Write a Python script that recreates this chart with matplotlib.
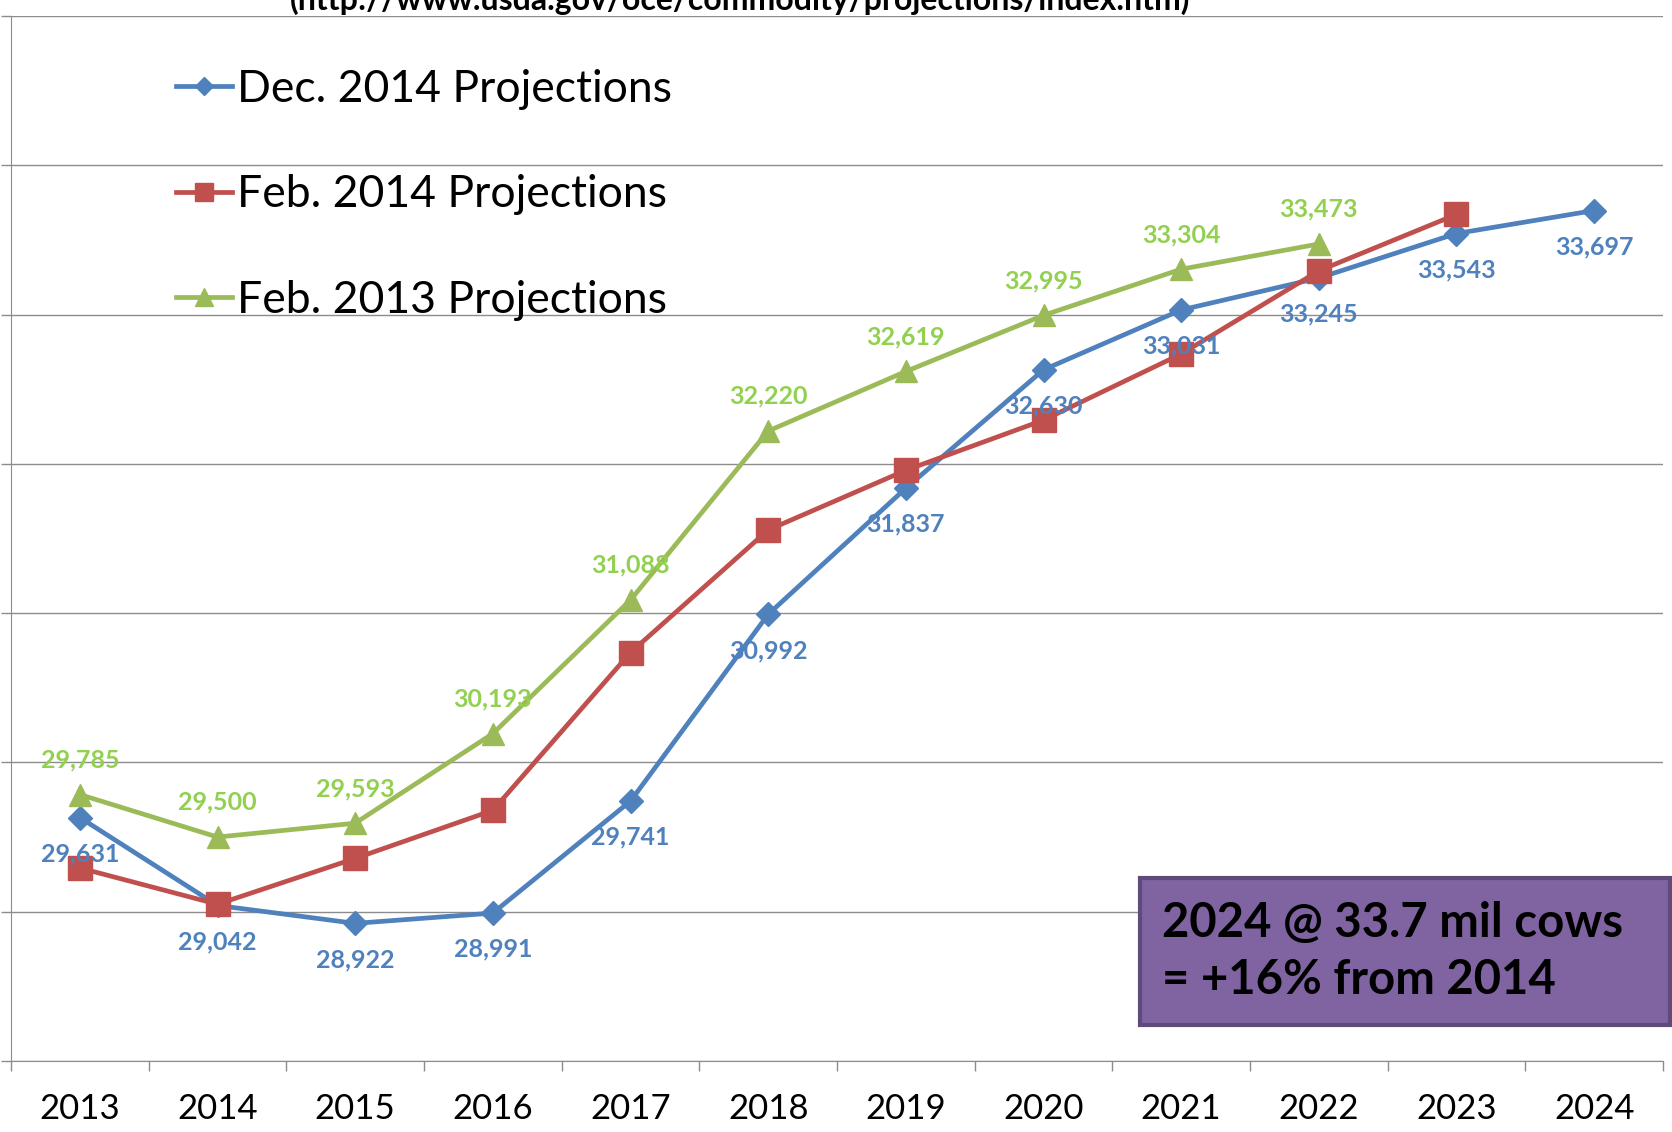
import numpy as np
import matplotlib.pyplot as plt
from matplotlib.patches import Rectangle

plt.rcParams['font.family'] = ['Lato', 'DejaVu Sans']

years = ['2013', '2014', '2015', '2016', '2017', '2018', '2019', '2020', '2021', '2022', '2023', '2024']
dec2014 = [29631, 29042, 28922, 28991, 29741, 30992, 31837, 32630, 33031, 33245, 33543, 33697]
feb2014 = [29293, 29050, 29357, 29679, 30736, 31557, 31957, 32293, 32736, 33293, 33671]
feb2013 = [29785, 29500, 29593, 30193, 31088, 32220, 32619, 32995, 33304, 33473]

blue = '#4F81BD'
red = '#C0504D'
green = '#9BBB59'
grid_c = '#8C8C8C'

fig = plt.figure(figsize=(16.72, 11.32), dpi=100)
ax = fig.add_axes([11/1672, 1 - 1061/1132, 1652/1672, 1045/1132])

x = np.arange(len(years))
l1, = ax.plot(x[:len(dec2014)], dec2014, color=blue, lw=3.4, marker='D', ms=12, zorder=3)
l2, = ax.plot(x[:len(feb2014)], feb2014, color=red, lw=3.4, marker='s', ms=17, zorder=4)
l3, = ax.plot(x[:len(feb2013)], feb2013, color=green, lw=3.4, marker='^', ms=16, zorder=5)

# data labels
for xi, v in zip(x, dec2014):
    ax.annotate(f'{v:,}', (xi, v), xytext=(0, -26), textcoords='offset points',
                ha='center', va='center', fontsize=18, fontweight='bold', color='#4F81BD', zorder=6)
for xi, v in zip(x, feb2013):
    ax.annotate(f'{v:,}', (xi, v), xytext=(0, 25), textcoords='offset points',
                ha='center', va='center', fontsize=18, fontweight='bold', color='#92D050', zorder=6)

ax.set_xlim(-0.5, 11.5)
ax.set_ylim(28000, 35000)
ax.set_yticks(np.arange(28000, 35001, 1000))
ax.set_yticklabels([])
ax.tick_params(axis='y', length=7, color=grid_c, width=1)
ax.grid(axis='y', color=grid_c, lw=1)
ax.set_axisbelow(True)

ax.set_xticks(x)
ax.set_xticklabels(years, fontsize=25)
ax.tick_params(axis='x', which='major', length=0, pad=23)
ax.set_xticks(np.arange(-0.5, 11.6, 1), minor=True)
ax.tick_params(axis='x', which='minor', length=7, color=grid_c, width=1)

for s in ['top', 'right']:
    ax.spines[s].set_visible(False)
for s in ['left', 'bottom']:
    ax.spines[s].set_color(grid_c)

leg = ax.legend([l1, l2, l3], ['Dec. 2014 Projections', 'Feb. 2014 Projections', 'Feb. 2013 Projections'],
                loc='upper left', bbox_to_anchor=(176/1672, 1 - 69/1132), bbox_transform=fig.transFigure,
                frameon=False, fontsize=32, handlelength=1.25, handletextpad=0.12,
                labelspacing=1.45, borderpad=0, borderaxespad=0, markerscale=0.8)

fig.text(740/1672, 1 - 10/1132, '(http://www.usda.gov/oce/commodity/projections/index.htm)',
         ha='center', va='baseline', fontsize=23, fontweight='bold')

box = Rectangle((1140/1672, 1 - 1025/1132), 530/1672, 147/1132, transform=fig.transFigure,
                facecolor='#8064A2', edgecolor='#5F4B7A', lw=3, zorder=10)
fig.patches.append(box)
fig.text(1162/1672, 1 - 923/1132, '2024 @ 33.7 mil cows', ha='left', va='center',
         fontsize=34, fontweight='bold', zorder=11)
fig.text(1162/1672, 1 - 980/1132, '= +16% from 2014', ha='left', va='center',
         fontsize=34, fontweight='bold', zorder=11)

fig.savefig('out.png', dpi=100)
